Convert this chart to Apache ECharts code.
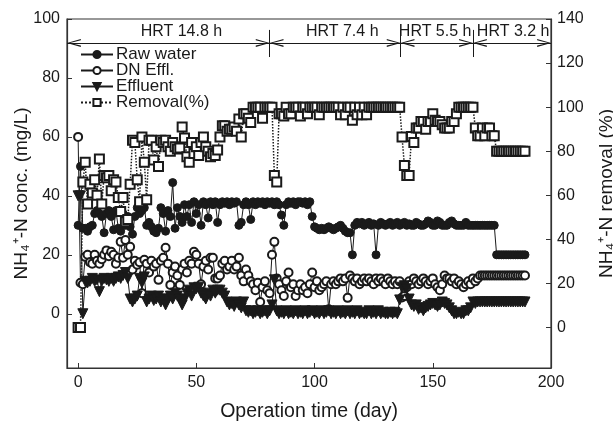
<!DOCTYPE html>
<html>
<head>
<meta charset="utf-8">
<title>NH4-N conc. and removal</title>
<script src="https://cdn.jsdelivr.net/npm/echarts@6.0.0/dist/echarts.min.js"></script>
<style>
html, body { margin: 0; padding: 0; background: #fff; }
#chart { width: 613px; height: 423px; }
</style>
</head>
<body>
<div id="chart"></div>
<script>
// [day, mg/L]
var rawWater = [
    [0,30],[1,50],[2,29],[3,29],[4,28],[5,29.5],[6,30],[7,34],[8,35],[9,34],[10,33],[11,27.5],[12,34],[13,35],[14,33],
    [15,28.5],[16,35],[17,29],[18,28],[19,34],[20,30],[21,33],[22,29.5],[23,27],[24,33],[25,36],[26,34],[27,35],[28,36],
    [29,30],[30,31],[31,29.5],[32,28],[33,27.5],[34,29],[35,36],[36,34],[37,28],[38,35],[39,33],[40,44.5],[41,29],[42,36],
    [43,33],[44,31],[45,37],[46,33],[47,37],[48,31],[49,38],[50,34],[51,37],[52,30],[53,38],[54,37],[55,32.5],[56,38],
    [57,37],[58,38],[59,31],[60,37],[61,38],[62,37.5],[63,38],[64,37],[65,38],[66,37.5],[67,38],[68,30],[69,31],[70,37],
    [71,38],[72,37],[73,32],[74,38],[75,37],[76,38],[77,37.5],[78,38],[79,37],[80,38],[81,37.5],[82,38],[83,37],[84,38],
    [85,37],[86,33.5],[87,30],[88,37],[89,38],[90,37.5],[91,38],[92,37],[93,38],[94,38],[95,37.5],[96,38],[97,37],[98,38],
    [99,33],[100,29.5],[101,29],[102,28.5],[103,29],[104,28.5],[105,29],[106,29.5],[107,29],[108,28.5],[109,29],[110,29.5],
    [111,30],[112,29],[113,28],[114,27.5],[115,27.5],[116,20],[117,30],[118,31],[119,30.5],[120,31],[121,30],[122,30.5],
    [123,31],[124,30],[125,30.5],[126,20],[127,30],[128,31],[129,30.5],[130,30],[131,30.5],[132,31],[133,30],[134,30.5],
    [135,31],[136,30],[137,30.5],[138,31],[139,30],[140,30.5],[141,30],[142,30],[143,31],[144,30.5],[145,30],[146,30],
    [147,30.5],[148,31.5],[149,31],[150,30],[151,30],[152,31.5],[153,31],[154,30],[155,30],[156,30],[157,31],[158,31.5],
    [159,30.5],[160,30],[161,30],[162,30],[163,30],[164,31],[165,30],[166,30],[167,30],[168,30],[169,30],[170,30],
    [171,30],[172,30],[173,30],[174,30],[175,30],[176,30],[177,20],[178,20],[179,20],[180,20],[181,20],[182,20],
    [183,20],[184,20],[185,20],[186,20],[187,20],[188,20],[189,20]
];
var dnEffl = [
    [0,60],[1,10.5],[2,10],[3,19.3],[4,20],[5,17.5],[6,17],[7,20],[8,18],[9,17],[10,18.5],[11,20],[12,21.5],[13,19.5],
    [14,21],[15,20],[16,17],[17,19],[18,24.4],[19,19],[20,25],[21,20],[22,22.7],[23,15],[24,18],[25,16.6],[26,17.5],
    [27,7],[28,18.3],[29,17],[30,14],[31,18],[32,16],[33,17],[34,11.5],[35,18],[36,19],[37,22.4],[38,17],[39,9.8],
    [40,14],[41,16],[42,13],[43,9.8],[44,15],[45,17],[46,14],[47,18],[48,17],[49,21],[50,20],[51,17],[52,10],[53,16],
    [54,18],[55,15],[56,19],[57,19],[58,12],[59,12],[60,13],[61,17],[62,18],[63,15],[64,16],[65,18],[66,15],[67,16],
    [68,19],[69,13],[70,11],[71,15],[72,13],[73,11],[74,10],[75,8],[76,10.5],[77,4],[78,9],[79,11],[80,8],[81,7],
    [82,20],[83,24.4],[84,12],[85,10],[86,8],[87,6],[88,11],[89,14],[90,9],[91,10],[92,6],[93,8],[94,10],[95,8],
    [96,9],[97,7],[98,10],[99,14],[100,9],[101,11],[102,8],[103,9],[104,10],[105,11],[106,1.5],[107,10],[108,11],
    [109,10],[110,11],[111,12],[112,11],[113,12],[114,5.4],[115,13],[116,12],[117,11],[118,12],[119,10],[120,11],
    [121,12],[122,11],[123,12],[124,11],[125,10],[126,12],[127,11],[128,12],[129,11],[130,10],[131,12],[132,11],
    [133,10],[134,11],[135,10],[136,11],[137,5.5],[138,6],[139,9],[140,11],[141,10],[142,12],[143,11],[144,10],
    [145,11],[146,12],[147,11],[148,10],[149,11],[150,12],[151,10],[152,9],[153,8],[154,10],[155,13],[156,12],
    [157,12],[158,11],[159,12],[160,10],[161,11],[162,10],[163,9],[164,10],[165,11],[166,10],[167,12],[168,11],
    [169,12],[170,13],[171,13],[172,13],[173,13],[174,13],[175,13],[176,13],[177,13],[178,13],[179,13],[180,13],
    [181,13],[182,13],[183,13],[184,13],[185,13],[186,13],[187,13],[188,13],[189,13]
];
var effluent = [
    [0,40],[1,40],[2,0],[3,11],[4,10.5],[5,11],[6,12],[7,11],[8,11.5],[9,7.5],[10,11],[11,12],[12,11.5],[13,11],
    [14,12],[15,11],[16,12],[17,12.5],[18,12],[19,13],[20,14],[21,12],[22,5],[23,4],[24,5],[25,6],[26,12],[27,10.5],
    [28,12.5],[29,4],[30,5],[31,6],[32,4.5],[33,5],[34,6],[35,4],[36,5],[37,3],[38,5],[39,6],[40,5],[41,7],[42,6],
    [43,5],[44,3],[45,5],[46,7],[47,8],[48,6],[49,8.8],[50,8.5],[51,9],[52,7],[53,6],[54,5],[55,7],[56,6],[57,8],
    [58,7],[59,8],[60,8],[61,7],[62,6],[63,4],[64,3],[65,3.5],[66,2.5],[67,4],[68,3],[69,2],[70,4],[71,1],[72,0.5],
    [73,1],[74,0],[75,0.5],[76,1],[77,0],[78,0.5],[79,1],[80,0],[81,1],[82,3],[83,11.5],[84,1],[85,0],[86,0.5],
    [87,0],[88,1],[89,0],[90,0.5],[91,0],[92,1],[93,0],[94,0.5],[95,0],[96,1],[97,0],[98,0.5],[99,1],[100,0],
    [101,0.5],[102,0],[103,1],[104,0],[105,0.5],[106,1],[107,0],[108,0.5],[109,0],[110,1],[111,0],[112,0.5],[113,0],
    [114,1],[115,0],[116,0.5],[117,0],[118,1],[119,0],[120,0.5],[121,0],[122,0],[123,1],[124,0],[125,0.5],[126,0],
    [127,1],[128,0],[129,0.5],[130,0],[131,0],[132,0.5],[133,0],[134,0.5],[135,0],[136,4.7],[137,9],[138,9.5],
    [139,8.5],[140,5],[141,3],[142,2.5],[143,3],[144,1.5],[145,2],[146,1],[147,2],[148,2.5],[149,3],[150,3.5],
    [151,3],[152,2.5],[153,3],[154,4],[155,3.5],[156,3],[157,2],[158,1],[159,0],[160,0],[161,0.5],[162,0],[163,0],
    [164,1],[165,1],[166,2],[167,4],[168,3.5],[169,4],[170,4],[171,4],[172,4],[173,4],[174,4],[175,4],[176,4],
    [177,4],[178,4],[179,4],[180,4],[181,4],[182,4],[183,4],[184,4],[185,4],[186,4],[187,4],[188,4],[189,4]
];
// [day, %]
var removal = [
    [0,0],[1,0],[2,66],[3,75],[4,56],[5,65],[6,61],[7,67],[8,60],[9,76.5],[10,56],[11,69],[12,68],[13,69],[14,62],
    [15,67],[16,66],[17,59],[18,52.6],[19,59],[20,48],[21,49],[22,65],[23,85],[24,84],[25,67],[26,57],[27,86.5],
    [28,75],[29,58],[30,85],[31,85],[32,76],[33,82],[34,73],[35,85],[36,84],[37,85],[38,82],[39,80],[40,84],[41,82],
    [42,81],[43,81.5],[44,91],[45,86],[46,77.5],[47,75],[48,84],[49,79],[50,82],[51,78],[52,84],[53,86.5],[54,82],
    [55,80],[56,77.5],[57,79],[58,78],[59,80.6],[60,86.5],[61,91.5],[62,91.5],[63,89],[64,90],[65,90],[66,91],[67,89],
    [68,94.6],[69,86.5],[70,97],[71,97],[72,95],[73,93],[74,100],[75,100],[76,100],[77,100],[78,95],[79,100],[80,100],
    [81,100],[82,100],[83,69],[84,66],[85,97],[86,97],[87,96],[88,100],[89,97],[90,97],[91,100],[92,100],[93,100],
    [94,96],[95,100],[96,100],[97,97],[98,100],[99,100],[100,100],[101,100],[102,96.5],[103,100],[104,100],[105,100],
    [106,100],[107,100],[108,100],[109,100],[110,100],[111,96.5],[112,100],[113,96.5],[114,100],[115,100],[116,94],
    [117,100],[118,96.5],[119,100],[120,96.5],[121,100],[122,96.5],[123,100],[124,100],[125,100],[126,100],[127,100],
    [128,100],[129,100],[130,100],[131,100],[132,100],[133,100],[134,100],[135,100],[136,100],[137,86.4],[138,73.5],
    [139,69],[140,69],[141,86.7],[142,84],[143,90.5],[144,90.5],[145,93.5],[146,93.5],[147,90],[148,93.5],[149,93.5],
    [150,97],[151,94],[152,93.5],[153,93.5],[154,92],[155,90.5],[156,90.5],[157,90.5],[158,93.5],[159,93.5],[160,97],
    [161,100],[162,100],[163,100],[164,100],[165,100],[166,100],[167,100],[168,90.5],[169,87],[170,87],[171,90.5],
    [172,87],[173,90.5],[174,90.5],[175,87],[176,87],[177,80],[178,80],[179,80],[180,80],[181,80],[182,80],[183,80],
    [184,80],[185,80],[186,80],[187,80],[188,80],[189,80]
];

var hrtEdges = [-4.7, 81, 136.4, 167, 200];
var hrtNames = ['HRT 14.8 h', 'HRT 7.4 h', 'HRT 5.5 h', 'HRT 3.2 h'];
var hrtLabelDays = [43.7, 111.7, 151, 184];

var xTicks = [0, 50, 100, 150, 200];
var leftTicks = [0, 20, 40, 60, 80, 100];
var rightTicks = [0, 20, 40, 60, 80, 100, 120, 140];

(function () {
    'use strict';

    var font = '"Liberation Sans", Arial, Helvetica, sans-serif';
    var ink = '#1a1a1a';
    var chevron = 'path://M5,0 L10,14 L8.4,14 L5,3.2 L1.6,14 L0,14 Z';
    var arrowY = 91.9;
    var half = 2.9; // half chevron length in days, so tips land on the bounds

    var segLines = [[
        { coord: [hrtEdges[0], arrowY], symbol: 'none' },
        { coord: [hrtEdges[hrtEdges.length - 1], arrowY], symbol: 'none' }
    ]];
    for (var i = 0; i < hrtNames.length; i++) {
        segLines.push([
            { coord: [hrtEdges[i] + half, arrowY] },
            { coord: [hrtEdges[i + 1] - half, arrowY] }
        ]);
    }
    for (var j = 1; j < hrtEdges.length - 1; j++) {
        segLines.push([
            { coord: [hrtEdges[j], 87.1], symbol: 'none' },
            { coord: [hrtEdges[j], 96.3], symbol: 'none' }
        ]);
    }
    var labelPoints = hrtNames.map(function (name, k) {
        return { name: name, coord: [hrtLabelDays[k], 95.8] };
    });

    function axisText() {
        return { color: ink, fontSize: 16, fontFamily: font };
    }

    var base = {
        type: 'line',
        symbolSize: 8,
        animation: false,
        lineStyle: { color: ink, width: 1 },
        itemStyle: { color: ink, borderColor: ink, borderWidth: 1 }
    };
    function series(extra) {
        return Object.assign({}, base, extra);
    }

    var myChart = echarts.init(document.getElementById('chart'), null, { renderer: 'canvas' });
    myChart.setOption({
        animation: false,
        backgroundColor: '#fff',
        grid: {
            left: 67, right: 62, top: 19, bottom: 55,
            show: true, borderColor: '#333', borderWidth: 1.2,
            containLabel: false,
            outerBoundsMode: 'none'
        },
        legend: {
            data: ['Raw water', 'DN Effl.', 'Effluent', 'Removal(%)'],
            orient: 'vertical',
            left: 80, top: 46,
            padding: 0,
            itemGap: -1,
            itemWidth: 32, itemHeight: 9,
            textStyle: { color: ink, fontSize: 17, fontFamily: font, padding: [0, 0, 0, -2] }
        },
        xAxis: {
            type: 'value',
            min: hrtEdges[0], max: 200,
            name: 'Operation time (day)',
            nameLocation: 'middle',
            nameGap: 34,
            nameTextStyle: { color: ink, fontSize: 19.5, fontFamily: font },
            axisLine: { onZero: false, lineStyle: { color: '#333', width: 1.2 } },
            axisTick: { inside: true, length: 5, customValues: xTicks, lineStyle: { color: '#333' } },
            axisLabel: Object.assign({ customValues: xTicks, margin: 7 }, axisText()),
            splitLine: { show: false }
        },
        yAxis: [{
            type: 'value',
            min: -18.4, max: 100,
            name: 'NH\u2084\u207A-N conc. (mg/L)',
            nameLocation: 'middle',
            nameRotate: 90,
            nameGap: 36,
            nameMoveOverlap: false,
            nameTextStyle: { color: ink, fontSize: 19, fontFamily: font },
            axisLine: { show: true, onZero: false, lineStyle: { color: '#333', width: 1.2 } },
            axisTick: { show: true, inside: true, length: 5, customValues: leftTicks, lineStyle: { color: '#333' } },
            axisLabel: Object.assign({ customValues: leftTicks, margin: 7 }, axisText()),
            splitLine: { show: false }
        }, {
            type: 'value',
            position: 'right',
            min: -18.4, max: 140,
            name: 'NH\u2084\u207A-N removal (%)',
            nameLocation: 'middle',
            nameRotate: 90,
            nameGap: 46,
            nameTextStyle: { color: ink, fontSize: 19, fontFamily: font },
            axisLine: { show: true, onZero: false, lineStyle: { color: '#333', width: 1.2 } },
            axisTick: { show: true, inside: true, length: 5, customValues: rightTicks, lineStyle: { color: '#333' } },
            axisLabel: Object.assign({ customValues: rightTicks, margin: 6 }, axisText()),
            splitLine: { show: false }
        }],
        series: [
            series({ name: 'Raw water', data: rawWater, symbol: 'circle' }),
            series({ name: 'DN Effl.', data: dnEffl, symbol: 'emptyCircle' }),
            series({ name: 'Effluent', data: effluent, symbol: 'triangle', symbolRotate: 180, symbolSize: 10 }),
            series({ name: 'Removal(%)', data: removal, yAxisIndex: 1, symbol: 'emptyRect', symbolSize: 9,
                lineStyle: { color: ink, width: 1.5, type: 'dotted' } }),
            {
                name: 'hrt',
                type: 'line',
                data: [],
                silent: true,
                animation: false,
                markLine: {
                    silent: true,
                    animation: false,
                    symbol: [chevron, chevron],
                    symbolSize: [8, 14],
                    label: { show: false },
                    lineStyle: { color: ink, width: 1, type: 'solid' },
                    emphasis: { disabled: true },
                    data: segLines
                },
                markPoint: {
                    silent: true,
                    animation: false,
                    symbol: 'rect',
                    symbolSize: 0,
                    label: { show: true, position: 'inside', formatter: '{b}', color: ink, fontSize: 16, fontFamily: font },
                    data: labelPoints
                }
            }
        ]
    });
})();
</script>
</body>
</html>
